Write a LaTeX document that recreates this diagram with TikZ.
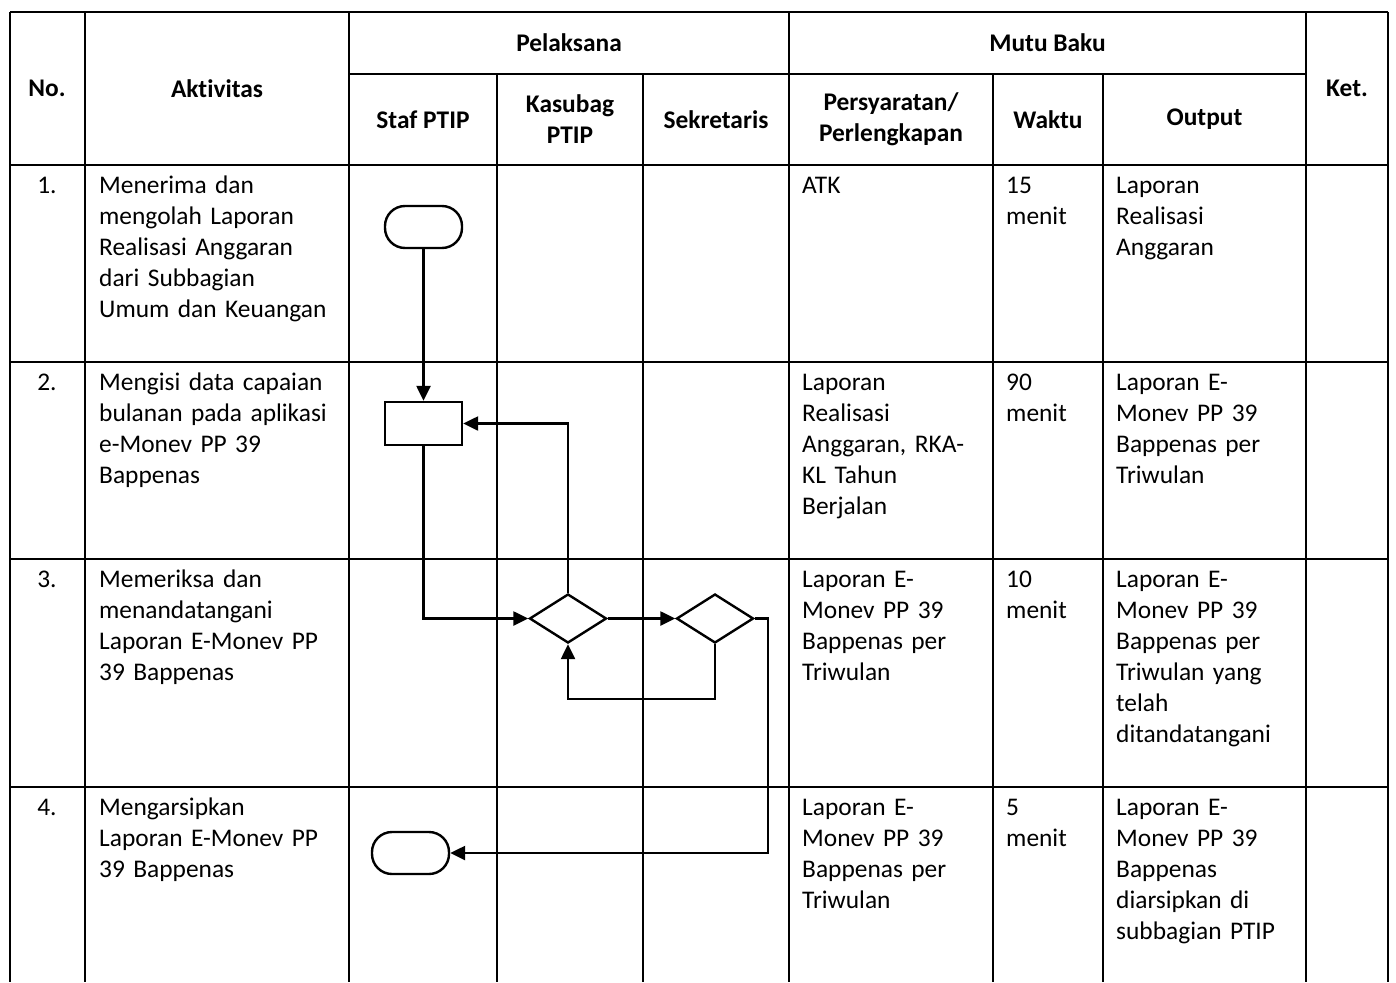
\documentclass[tikz,border=0pt]{standalone}
\usepackage{fontspec}
\setmainfont{Carlito}[Ligatures=NoCommon]
\usetikzlibrary{shapes.geometric,arrows.meta}
\newcommand{\bodyfont}{\fontsize{25.4}{31}\selectfont}
\begin{document}
\begin{tikzpicture}[x=1pt,y=-1pt,
  grid/.style={line width=2.3pt},
  arr/.style={line width=2.4pt,-{Triangle[length=15pt,width=14pt]}},
  term/.style={draw,line width=2.4pt,rectangle,rounded corners=20pt,minimum width=77pt,minimum height=42pt,inner sep=0pt},
  proc/.style={draw,line width=2.4pt,rectangle,minimum width=77pt,minimum height=43pt,inner sep=0pt},
  dec/.style={draw,line width=2.4pt,diamond,minimum width=77pt,minimum height=49pt,inner sep=0pt},
  txt/.style={anchor=north west,inner sep=0pt,text width=#1,align=left,font=\bodyfont},
  hdr/.style={align=center,inner sep=0pt,font=\bodyfont\bfseries},
  num/.style={anchor=north,inner sep=0pt,font=\bodyfont}]
\useasboundingbox (0,0) rectangle (1396,982);
\fill[white] (0,0) rectangle (1396,982);

% grid lines
\draw[grid] (10,12) -- (1388,12);
\draw[grid] (349,74) -- (1306,74);
\draw[grid] (10,165) -- (1388,165);
\draw[grid] (10,362) -- (1388,362);
\draw[grid] (10,559) -- (1388,559);
\draw[grid] (10,787) -- (1388,787);
\foreach \x in {10,85,349,789,1306,1388} \draw[grid] (\x,12) -- (\x,982);
\foreach \x in {497,643,993,1103} \draw[grid] (\x,74) -- (\x,982);

% header
\node[hdr] (hno) at (47,88.5) {No.};
\node[hdr] (hakt) at (217,88.5) {Aktivitas};
\node[hdr] (hpel) at (569,43) {Pelaksana};
\node[hdr] (hmutu) at (1047.5,43) {Mutu Baku};
\node[hdr] (hket) at (1347,88.5) {Ket.};
\node[hdr] (hstaf) at (423,119.5) {Staf PTIP};
\node[hdr] (hkas) at (570,119.5) {Kasubag\\PTIP};
\node[hdr] (hsek) at (716,119.5) {Sekretaris};
\node[hdr] (hpers) at (891,119.5) {Persyaratan/\\Perlengkapan};
\node[hdr] (hwak) at (1048,119.5) {Waktu};
\node[hdr] (hout) at (1204.5,119.5) {Output};

% row 1
\node[num] (n1) at (47,171.3) {\strut 1.};
\node[txt=245pt] (a1) at (99,171.3) {\strut Menerima dan\\mengolah Laporan\\Realisasi Anggaran\\dari Subbagian\\Umum dan Keuangan};
\node[txt=185pt] (p1) at (802,171.3) {\strut ATK};
\node[txt=95pt] (w1) at (1006,171.3) {\strut 15\\menit};
\node[txt=185pt] (o1) at (1116,171.3) {\strut Laporan\\Realisasi\\Anggaran};

% row 2
\node[num] (n2) at (47,368.3) {\strut 2.};
\node[txt=245pt] (a2) at (99,368.3) {\strut Mengisi data capaian\\bulanan pada aplikasi\\e-Monev PP 39\\Bappenas};
\node[txt=185pt] (p2) at (802,368.3) {\strut Laporan\\Realisasi\\Anggaran, RKA-\\KL Tahun\\Berjalan};
\node[txt=95pt] (w2) at (1006,368.3) {\strut 90\\menit};
\node[txt=185pt] (o2) at (1116,368.3) {\strut Laporan E-\\Monev PP 39\\Bappenas per\\Triwulan};

% row 3
\node[num] (n3) at (47,565.3) {\strut 3.};
\node[txt=245pt] (a3) at (99,565.3) {\strut Memeriksa dan\\menandatangani\\Laporan E-Monev PP\\39 Bappenas};
\node[txt=185pt] (p3) at (802,565.3) {\strut Laporan E-\\Monev PP 39\\Bappenas per\\Triwulan};
\node[txt=95pt] (w3) at (1006,565.3) {\strut 10\\menit};
\node[txt=185pt] (o3) at (1116,565.3) {\strut Laporan E-\\Monev PP 39\\Bappenas per\\Triwulan yang\\telah\\ditandatangani};

% row 4
\node[num] (n4) at (47,793.3) {\strut 4.};
\node[txt=245pt] (a4) at (99,793.3) {\strut Mengarsipkan\\Laporan E-Monev PP\\39 Bappenas};
\node[txt=185pt] (p4) at (802,793.3) {\strut Laporan E-\\Monev PP 39\\Bappenas per\\Triwulan};
\node[txt=95pt] (w4) at (1006,793.3) {\strut 5\\menit};
\node[txt=185pt] (o4) at (1116,793.3) {\strut Laporan E-\\Monev PP 39\\Bappenas\\diarsipkan di\\subbagian PTIP};

% flowchart
\node[term,fill=white] (t1) at (423.5,227) {};
\node[proc,fill=white] (b1) at (423.5,423.5) {};
\node[dec,fill=white] (d1) at (568,618.5) {};
\node[dec,fill=white] (d2) at (715,618.5) {};
\node[term,fill=white] (t2) at (410.5,853) {};
\coordinate (loop) at (715,699);
\coordinate (rgt) at (768,618.5);

\draw[arr] (t1.south) -- (b1.north);
\draw[arr] (b1.south) |- (d1.west);
\draw[arr] (d1.north) |- (b1.east);
\draw[arr] (d1.east) -- (d2.west);
\draw[arr] (d2.south) -- (loop) -| (d1.south);
\draw[arr] (d2.east) -- (rgt) |- (t2.east);
\end{tikzpicture}
\end{document}
